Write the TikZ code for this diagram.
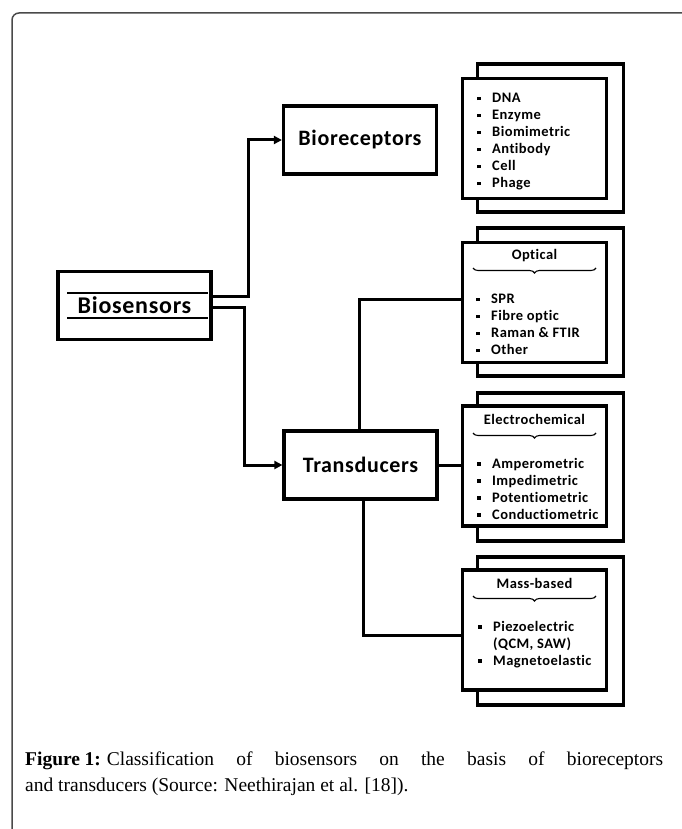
\documentclass[tikz,border=0pt]{standalone}
\usepackage{fontspec}
\setmainfont{Liberation Serif}
\newfontfamily\diagfont[LetterSpace=3, Ligatures=NoCommon]{Carlito}
\usetikzlibrary{arrows.meta,decorations.pathreplacing}

\definecolor{framegray}{HTML}{4a4a4a}
\newcommand{\itm}{\makebox[15pt][l]{\rule[2.5pt]{3.6pt}{3.6pt}}}

\begin{document}
\begin{tikzpicture}[x=1pt, y=-1pt]
    \useasboundingbox (0,0) rectangle (681,829);
    \draw[framegray, line width=1.5pt, rounded corners=7pt] (12,845) -- (12,13) -- (700,13);

    \begin{scope}[font=\diagfont\bfseries,
        box/.style={draw, fill=white, line width=3.2pt, minimum width=153pt, minimum height=68pt, inner sep=0pt},
        back/.style={draw, fill=white, line width=3.2pt, minimum width=146pt, minimum height=148pt},
        front/.style={draw, fill=white, line width=3.2pt, minimum width=144pt, minimum height=120pt},
        title/.style={font=\diagfont\bfseries\fontsize{14.5}{17}\selectfont, inner sep=0pt},
        list/.style={font=\diagfont\bfseries\fontsize{14.5}{17}\selectfont, align=left, anchor=north west, inner sep=0pt},
        conn/.style={line width=3pt},
        brace/.style={decorate, decoration={brace, mirror, amplitude=5pt}, line width=1.1pt}]

        \node[box, font=\diagfont\bfseries\fontsize{24}{28}\selectfont] (bio) at (134.5, 305.5) {Biosensors};
        \draw[line width=2.6pt] ([xshift=11pt, yshift=12.5pt]bio.west) -- ([xshift=-5pt, yshift=12.5pt]bio.east);
        \draw[line width=2.6pt] ([xshift=11pt, yshift=-12.5pt]bio.west) -- ([xshift=-5pt, yshift=-12.5pt]bio.east);

        \node[box, font=\diagfont\bfseries\fontsize{22}{26}\selectfont] (rec) at (360, 140) {Bioreceptors};
        \node[box, font=\diagfont\bfseries\fontsize{22}{26}\selectfont] (trans) at (360.5, 465) {Transducers};

        % stacked boxes
        \node[back] (rec-b) at (550.5, 138) {};
        \node[front] (rec-f) at (534.5, 138.5) {};
        \node[back] (opt-b) at (550.5, 302) {};
        \node[front] (opt-f) at (534.5, 302.5) {};
        \node[back] (ele-b) at (550.5, 467) {};
        \node[front] (ele-f) at (534.5, 466) {};
        \node[back] (mass-b) at (550.5, 631) {};
        \node[front] (mass-f) at (534.5, 630) {};

        \node[list] (rec-l) at (477, 93) {\itm DNA\\ \itm Enzyme\\ \itm Biomimetric\\ \itm Antibody\\ \itm Cell\\ \itm Phage};

        \node[title] (opt-t) at (534.5, 256) {Optical};
        \draw[brace] (473, 268) -- (596, 268);
        \node[list] (opt-l) at (476, 294) {\itm SPR\\ \itm Fibre optic\\ \itm Raman \& FTIR\\ \itm Other};

        \node[title] (ele-t) at (534.5, 419) {Electrochemical};
        \draw[brace] (473, 433) -- (596, 433);
        \node[list] (ele-l) at (477, 458) {\itm Amperometric\\ \itm Impedimetric\\ \itm Potentiometric\\ \itm Conductiometric};

        \node[title] (mass-t) at (534.5, 583) {Mass-based};
        \draw[brace] (473, 596) -- (596, 596);
        \node[list] (mass-l) at (478, 621) {\itm Piezoelectric\\ \makebox[15pt]{}(QCM, SAW)\\ \itm Magnetoelastic};

        \draw[conn, -{Triangle[length=8pt, width=8pt]}] ([yshift=9pt]bio.east) -- ++(36,0) |- (rec.west);
        \draw[conn, -{Triangle[length=8pt, width=8pt]}] ([yshift=-1.5pt]bio.east) -- ++(32,0) |- (trans.west);
        \draw[conn] ([xshift=-1.5pt]trans.north) |- ([yshift=3.5pt]opt-f.west);
        \draw[conn] (trans.east) -- (trans.east -| ele-f.west);
        \draw[conn] ([xshift=2.5pt]trans.south) |- ([yshift=-5pt]mass-f.west);
    \end{scope}

    \node[anchor=north west, text width=638pt, align=justify, inner sep=0pt, font=\fontsize{19.5}{26}\selectfont] (cap) at (25, 752)
        {\textbf{Figure\hspace{4.5pt}1:}\hspace{6pt}Classification of biosensors on the basis of bioreceptors\linebreak and transducers (Source: Neethirajan et al. [18]).};
\end{tikzpicture}
\end{document}
